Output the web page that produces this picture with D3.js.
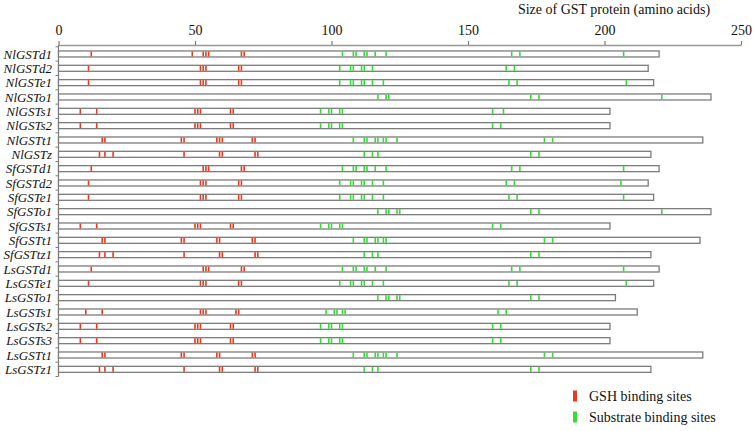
<!DOCTYPE html>
<html>
<head>
<meta charset="utf-8">
<script src="https://cdn.jsdelivr.net/npm/d3@7"></script>
<style>
  body { margin: 0; background: #fff; }
  svg { display: block; }
</style>
</head>
<body>
<svg id="chart" width="754" height="431"></svg>
<script>
const proteins = [
  "NlGSTd1", "NlGSTd2", "NlGSTe1", "NlGSTo1", "NlGSTs1", "NlGSTs2", "NlGSTt1", "NlGSTz",
  "SfGSTd1", "SfGSTd2", "SfGSTe1", "SfGSTo1", "SfGSTs1", "SfGSTt1", "SfGSTtz1",
  "LsGSTd1", "LsGSTe1", "LsGSTo1", "LsGSTs1", "LsGSTs2", "LsGSTs3", "LsGSTt1", "LsGSTz1"
];

// protein length (aa)
const lengths = [220, 216, 218, 239, 202, 202, 236, 217,
  220, 216, 218, 239, 202, 235, 217,
  220, 218, 204, 212, 202, 202, 236, 217];

// GSH binding sites (red)
const gshSites = [
  [12, 49, 53, 54, 55, 67, 68],
  [11, 52, 53, 54, 66, 67],
  [11, 52, 53, 54, 66, 67],
  [],
  [8, 14, 50, 51, 52, 63, 64],
  [8, 14, 50, 51, 52, 63, 64],
  [16, 17, 45, 46, 58, 59, 60, 71, 72],
  [15, 17, 20, 46, 59, 60, 72, 73],
  [12, 53, 54, 55, 67, 68],
  [11, 52, 53, 54, 66, 67],
  [11, 52, 53, 54, 66, 67],
  [],
  [8, 14, 50, 51, 52, 63, 64],
  [16, 17, 45, 46, 58, 59, 71, 72],
  [15, 17, 20, 46, 59, 60, 72, 73],
  [12, 53, 54, 55, 67, 68],
  [11, 52, 53, 54, 66, 67],
  [],
  [10, 16, 52, 53, 54, 65, 66],
  [8, 14, 50, 51, 52, 63, 64],
  [8, 14, 50, 51, 52, 63, 64],
  [16, 17, 45, 46, 58, 59, 71, 72],
  [15, 17, 20, 46, 59, 60, 72, 73]
];

// substrate binding sites (green)
const substrateSites = [
  [104, 108, 109, 112, 113, 116, 120, 166, 169, 207],
  [103, 107, 108, 111, 112, 115, 164, 167],
  [103, 107, 108, 111, 112, 115, 119, 165, 168, 208],
  [117, 120, 121, 173, 176, 221],
  [96, 99, 100, 103, 104, 159, 163],
  [96, 99, 100, 103, 104, 159, 162],
  [108, 112, 113, 116, 117, 119, 120, 124, 178, 181],
  [112, 115, 117, 173, 176],
  [104, 108, 109, 112, 113, 116, 120, 166, 169, 207],
  [103, 107, 108, 111, 112, 115, 119, 164, 167, 206],
  [103, 107, 108, 111, 112, 115, 119, 165, 168, 207],
  [117, 120, 121, 124, 125, 173, 176, 221],
  [96, 99, 100, 103, 104, 159, 162],
  [108, 112, 113, 116, 117, 119, 120, 178, 181],
  [112, 115, 117, 173, 176],
  [104, 108, 109, 112, 113, 116, 120, 166, 169, 207],
  [103, 107, 108, 111, 112, 115, 119, 165, 168, 208],
  [117, 120, 121, 124, 125, 173, 176],
  [98, 101, 102, 104, 105, 161, 164],
  [96, 99, 100, 103, 104, 159, 162],
  [96, 99, 100, 103, 104, 159, 162],
  [108, 112, 113, 116, 117, 119, 120, 124, 178, 181],
  [112, 115, 117, 173, 176]
];

const xTicks = [0, 50, 100, 150, 200, 250];
const legendLabels = ["GSH binding sites", "Substrate binding sites"];

const red = "#ea3a1c";
const green = "#33dd33";
const grey = "#7c7c7c";
const serif = "'Liberation Serif', 'Times New Roman', serif";

const svg = d3.select("#chart");

const x = d3.scaleLinear().domain([0, 250]).range([58.5, 741]);
const y = d3.scaleBand().domain(proteins).range([46.8, 376.5]);
const barH = 6;

// top axis
const xAxis = svg.append("g")
  .attr("transform", "translate(0,45)")
  .call(d3.axisTop(x).tickValues(xTicks).tickSize(4).tickSizeOuter(0));
xAxis.select(".domain").attr("stroke", "#999").attr("stroke-width", 1.5);
xAxis.selectAll(".tick line").attr("stroke", grey).attr("stroke-width", 1.2);
xAxis.selectAll(".tick text")
  .attr("font-family", serif)
  .attr("font-size", 14)
  .attr("fill", "#111")
  .attr("dy", "-0.2em");

svg.append("text")
  .attr("x", 614)
  .attr("y", 14)
  .attr("text-anchor", "middle")
  .attr("font-family", serif)
  .attr("font-size", 14)
  .attr("fill", "#111")
  .text("Size of GST protein (amino acids)");

// left axis with ticks between rows
const bounds = proteins.map(p => y(p)).concat([y.range()[1]]);
svg.append("line")
  .attr("x1", x(0)).attr("x2", x(0))
  .attr("y1", 45).attr("y2", y.range()[1])
  .attr("stroke", grey).attr("stroke-width", 1.2);
svg.append("g")
  .selectAll("line")
  .data(bounds)
  .join("line")
  .attr("x1", x(0) - 3).attr("x2", x(0))
  .attr("y1", d => d).attr("y2", d => d)
  .attr("stroke", grey).attr("stroke-width", 1);

// rows
const rows = svg.append("g")
  .selectAll("g")
  .data(proteins)
  .join("g")
  .attr("transform", d => `translate(0,${y(d) + y.bandwidth() / 2})`);

rows.append("text")
  .attr("x", 52)
  .attr("dy", "0.35em")
  .attr("text-anchor", "end")
  .attr("font-family", serif)
  .attr("font-style", "italic")
  .attr("font-size", 13)
  .attr("fill", "#111")
  .text(d => d);

rows.append("rect")
  .attr("x", x(0))
  .attr("y", -barH / 2)
  .attr("width", (d, i) => x(lengths[i]) - x(0))
  .attr("height", barH)
  .attr("fill", "#fff")
  .attr("stroke", grey)
  .attr("stroke-width", 1.3);

rows.each(function(d, i) {
  const g = d3.select(this);
  g.selectAll("rect.gsh")
    .data(gshSites[i])
    .join("rect")
    .attr("class", "gsh")
    .attr("x", s => x(s) - 0.8)
    .attr("y", -barH / 2 + 0.5)
    .attr("width", 1.6)
    .attr("height", barH - 1)
    .attr("fill", red);
  g.selectAll("rect.sub")
    .data(substrateSites[i])
    .join("rect")
    .attr("class", "sub")
    .attr("x", s => x(s) - 0.8)
    .attr("y", -barH / 2 + 0.5)
    .attr("width", 1.6)
    .attr("height", barH - 1)
    .attr("fill", green);
});

// legend
const legend = svg.append("g")
  .selectAll("g")
  .data(legendLabels)
  .join("g")
  .attr("transform", (d, i) => `translate(573,${396 + i * 21})`);

legend.append("rect")
  .attr("x", 0).attr("y", -5.5)
  .attr("width", 4).attr("height", 11)
  .attr("fill", (d, i) => i === 0 ? red : green);

legend.append("text")
  .attr("x", 16)
  .attr("dy", "0.35em")
  .attr("font-family", serif)
  .attr("font-size", 14)
  .attr("fill", "#111")
  .text(d => d);
</script>
</body>
</html>
